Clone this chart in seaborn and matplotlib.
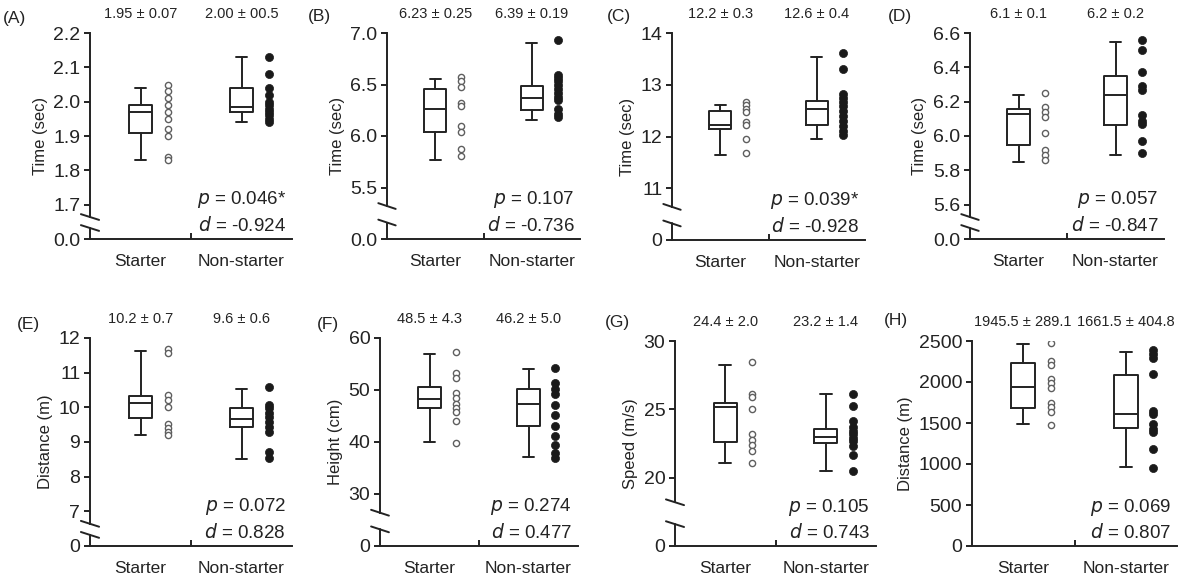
import numpy as np
import pandas as pd
import matplotlib
matplotlib.use("Agg")
import matplotlib.pyplot as plt
import matplotlib.transforms as mtransforms
import seaborn as sns

# text shown on each panel
panel_ids = ["(A)", "(B)", "(C)", "(D)", "(E)", "(F)", "(G)", "(H)"]
y_titles = ["Time (sec)", "Time (sec)", "Time (sec)", "Time (sec)",
            "Distance (m)", "Height (cm)", "Speed (m/s)", "Distance (m)"]
groups = ["Starter", "Non-starter"]
mean_sd_starter = ["1.95 ± 0.07", "6.23 ± 0.25", "12.2 ± 0.3", "6.1 ± 0.1",
                   "10.2 ± 0.7", "48.5 ± 4.3", "24.4 ± 2.0", "1945.5 ± 289.1"]
mean_sd_non = ["2.00 ± 00.5", "6.39 ± 0.19", "12.6 ± 0.4", "6.2 ± 0.2",
               "9.6 ± 0.6", "46.2 ± 5.0", "23.2 ± 1.4", "1661.5 ± 404.8"]
p_values = ["0.046*", "0.107", "0.039*", "0.057", "0.072", "0.274", "0.105", "0.069"]
d_values = ["-0.924", "-0.736", "-0.928", "-0.847", "0.828", "0.477", "0.743", "0.807"]

# y scales: value where the "0" label sits (break above it), tick step, top
y_zero = [1.6, 5.0, 10, 5.4, 6, 20, 15, 0]
y_step = [0.1, 0.5, 1, 0.2, 1, 10, 5, 500]
y_top = [2.2, 7.0, 14, 6.6, 12, 60, 30, 2500]
y_decimals = [1, 1, 0, 1, 0, 0, 0, 0]
has_break = [True, True, True, True, True, True, True, False]

# box stats: whisker low, q1, median, q3, whisker high
box_starter = [
    [1.83, 1.91, 1.97, 1.99, 2.04],
    [5.77, 6.04, 6.26, 6.46, 6.55],
    [11.64, 12.15, 12.23, 12.49, 12.60],
    [5.85, 5.95, 6.13, 6.16, 6.24],
    [9.19, 9.69, 10.13, 10.32, 11.62],
    [40.0, 46.5, 48.3, 50.5, 57.0],
    [21.06, 22.64, 25.19, 25.43, 28.27],
    [1492, 1687, 1939, 2228, 2467],
]
box_non = [
    [1.94, 1.97, 1.985, 2.04, 2.13],
    [6.155, 6.25, 6.365, 6.49, 6.90],
    [11.96, 12.23, 12.54, 12.68, 13.54],
    [5.887, 6.066, 6.237, 6.35, 6.546],
    [8.52, 9.42, 9.66, 9.98, 10.54],
    [37.1, 43.0, 47.3, 50.2, 54.1],
    [20.49, 22.54, 22.96, 23.58, 26.10],
    [967, 1443, 1606, 2085, 2370],
]

# individual players
a_starter = [2.05, 2.03, 2.01, 1.99, 1.97, 1.95, 1.92, 1.90, 1.84, 1.83]
a_non = [2.13, 2.08, 2.04, 2.02, 2.00, 1.99, 1.98, 1.97, 1.96, 1.95, 1.94]
b_starter = [6.57, 6.53, 6.48, 6.32, 6.29, 6.10, 6.04, 5.87, 5.81]
b_non = [6.93, 6.59, 6.56, 6.53, 6.50, 6.46, 6.42, 6.38, 6.35, 6.26, 6.21, 6.18]
c_starter = [12.66, 12.60, 12.53, 12.47, 12.28, 12.22, 11.96, 11.68]
c_non = [13.62, 13.30, 12.83, 12.75, 12.67, 12.58, 12.50, 12.40, 12.30, 12.20, 12.10, 12.02]
d_starter = [6.25, 6.17, 6.14, 6.11, 6.02, 5.92, 5.89, 5.86]
d_non = [6.56, 6.50, 6.37, 6.29, 6.27, 6.12, 6.09, 6.07, 5.97, 5.90]
e_starter = [11.67, 11.57, 10.37, 10.20, 10.00, 9.52, 9.40, 9.30, 9.19]
e_non = [10.58, 10.08, 9.98, 9.85, 9.72, 9.58, 9.43, 9.30, 8.70, 8.54]
f_starter = [57.3, 53.2, 52.3, 49.4, 48.4, 47.4, 46.5, 45.8, 44.0, 39.8]
f_non = [54.2, 51.3, 50.2, 49.2, 47.1, 45.2, 43.0, 41.1, 39.4, 37.9, 36.9]
g_starter = [28.44, 26.12, 25.88, 25.0, 23.16, 22.79, 22.42, 21.98, 21.06]
g_non = [26.1, 25.23, 24.12, 23.70, 23.41, 23.16, 22.91, 22.67, 22.35, 21.65, 20.49]
h_starter = [2480, 2256, 2203, 2033, 1992, 1931, 1748, 1699, 1638, 1472]
h_non = [2390, 2337, 2289, 2093, 1646, 1606, 1484, 1431, 1390, 1187, 947]

starter_pts = [a_starter, b_starter, c_starter, d_starter, e_starter, f_starter, g_starter, h_starter]
non_pts = [a_non, b_non, c_non, d_non, e_non, f_non, g_non, h_non]

# layout in pixels: left, top, right, bottom of each plot area
W, H = 1193, 579
rects = [(90, 33, 292, 239), (387, 33, 580, 239), (672, 33, 865, 240), (970, 33, 1164, 239),
         (90, 338, 292, 546), (380, 338, 578, 546), (675, 341, 876, 546), (972, 341, 1177, 546)]
id_pos = [(3, 18), (308, 16), (607, 16), (888, 17), (17, 325), (317, 324), (605, 323), (884, 321)]

INK = "#232323"
LW = 1.4

sns.set_style("ticks")
plt.rcParams["font.family"] = ["Liberation Sans", "DejaVu Sans"]
plt.rcParams["text.color"] = INK
plt.rcParams["axes.labelcolor"] = INK
plt.rcParams["xtick.color"] = INK
plt.rcParams["ytick.color"] = INK

fig = plt.figure(figsize=(W / 100, H / 100), dpi=100)

for i in range(8):
    l, t, r, b = rects[i]
    ax = fig.add_axes([l / W, 1 - b / H, (r - l) / W, (b - t) / H])

    stats = []
    for s in (box_starter[i], box_non[i]):
        stats.append(dict(whislo=s[0], q1=s[1], med=s[2], q3=s[3], whishi=s[4], fliers=[]))
    lp = dict(color=INK, linewidth=LW)
    ax.bxp(stats, positions=[0, 1], widths=0.23, showfliers=False,
           boxprops=lp, medianprops=lp, whiskerprops=lp, capprops=lp)

    df = pd.DataFrame({
        "value": starter_pts[i] + non_pts[i],
        "group": [groups[0]] * len(starter_pts[i]) + [groups[1]] * len(non_pts[i]),
    })
    df["x"] = df["group"].map({groups[0]: 0.27, groups[1]: 1.27})
    st = df[df["group"] == groups[0]]
    ns = df[df["group"] == groups[1]]
    sns.scatterplot(data=st, x="x", y="value", ax=ax, s=20, facecolor="white",
                    edgecolor="#5f5f5f", linewidth=1.0, zorder=3, legend=False)
    sns.scatterplot(data=ns, x="x", y="value", ax=ax, s=34, color="#1a1a1a",
                    edgecolor="#1a1a1a", linewidth=0.5, zorder=3, legend=False)

    # y axis
    z, stp, top = y_zero[i], y_step[i], y_top[i]
    ticks = np.round(np.arange(z, top + stp / 2, stp), 6)
    fmt = "{:.%df}" % y_decimals[i]
    labels = [fmt.format(v) for v in ticks]
    labels[0] = fmt.format(0)
    ax.set_ylim(z, top)
    ax.set_yticks(ticks, labels=labels)
    ax.set_xlim(-0.5, 1.5)
    ax.set_xticks([0, 1], labels=groups)
    ax.set_xticks([0.5], minor=True)
    ax.tick_params(axis="x", which="major", length=0, pad=11, labelsize=12.5)
    ax.tick_params(axis="x", which="minor", length=4, direction="in", width=LW)
    ax.tick_params(axis="y", length=4, width=LW, labelsize=14, pad=3)
    ax.set_xlabel("")
    ax.set_ylabel(y_titles[i], fontsize=12, labelpad=4)
    for sp in ("top", "right"):
        ax.spines[sp].set_visible(False)
    for sp in ("left", "bottom"):
        ax.spines[sp].set_linewidth(LW)
        ax.spines[sp].set_color(INK)

    if has_break[i]:
        hi = z + 0.64 * stp
        lo = z + 0.32 * stp
        ax.spines["left"].set_bounds(hi, top)
        ytr = mtransforms.blended_transform_factory(ax.transAxes, ax.transData)
        ax.plot([0, 0], [z, lo], color=INK, lw=LW, transform=ytr, clip_on=False)
        span = top - z
        for yb in (hi, lo):
            fy = (yb - z) / span
            ax.plot([-0.045, 0.045], [fy + 0.014, fy - 0.014], color=INK, lw=LW,
                    transform=ax.transAxes, clip_on=False)

    # group summaries above the boxes
    for xpos, txt in ((0, mean_sd_starter[i]), (1, mean_sd_non[i])):
        ax.annotate(txt, xy=(xpos, 1), xycoords=("data", "axes fraction"),
                    xytext=(0, 13.5), textcoords="offset points",
                    ha="center", va="center", fontsize=10.5)

    ax.text(0.97, 0.19, "$\\it{p}$ = " + p_values[i], transform=ax.transAxes,
            ha="right", va="center", fontsize=13.5)
    ax.text(0.97, 0.065, "$\\it{d}$ = " + d_values[i], transform=ax.transAxes,
            ha="right", va="center", fontsize=13.5)

    fig.text(id_pos[i][0] / W, 1 - id_pos[i][1] / H, panel_ids[i],
             ha="left", va="center", fontsize=12.5)

fig.savefig("out.png", dpi=100)
